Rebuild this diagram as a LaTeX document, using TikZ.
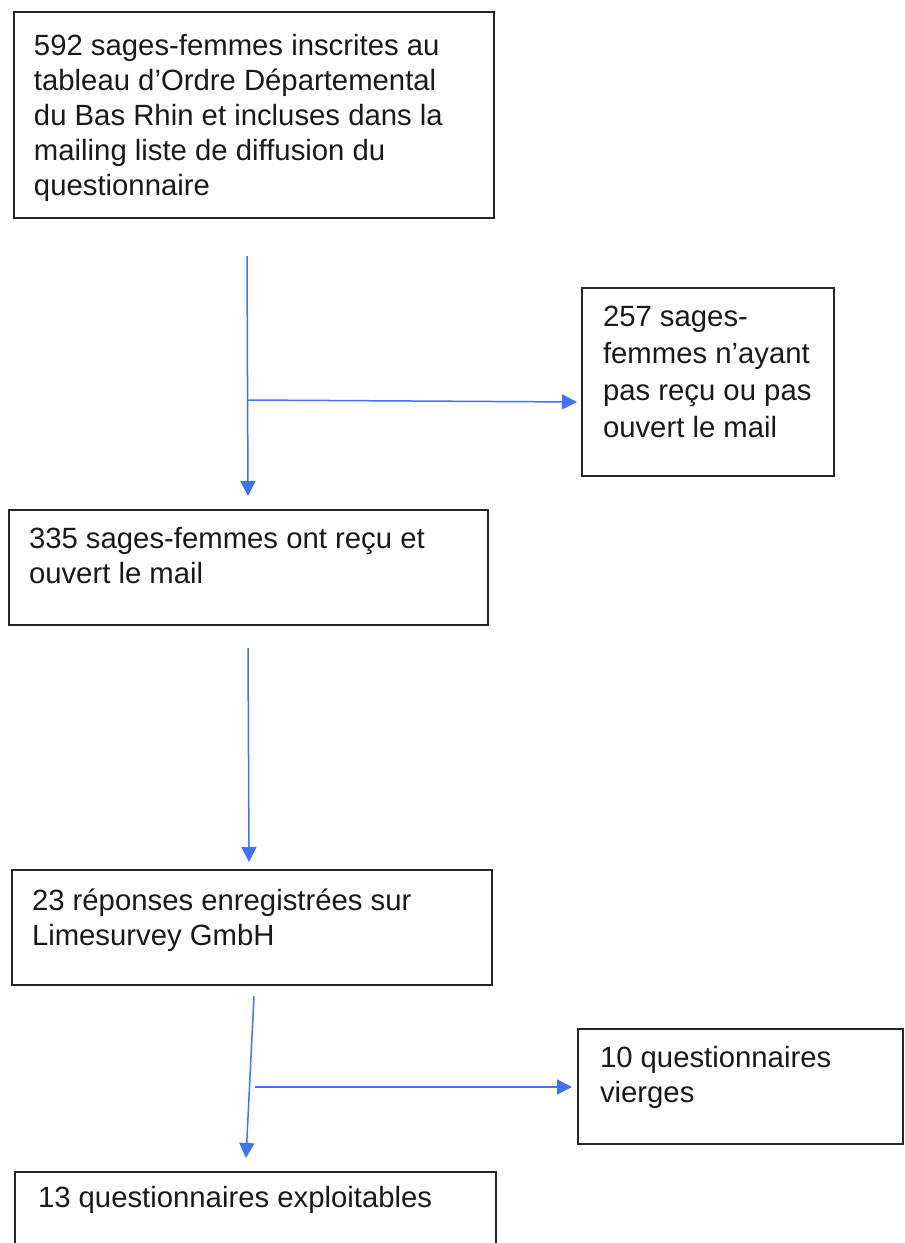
\documentclass[tikz,border=0pt]{standalone}
\usepackage{fontspec}
\setmainfont{Liberation Sans}
\usetikzlibrary{arrows.meta}
\definecolor{arrowblue}{RGB}{64,115,250}
\definecolor{boxline}{RGB}{38,38,38}
\definecolor{txt}{RGB}{25,25,25}
\newcommand{\boxtext}[2][35]{\parbox[t]{460pt}{\raggedright\fontsize{29.3}{#1}\selectfont #2}}
\tikzset{
  flowbox/.style={draw=boxline, line width=2pt, inner sep=0pt, outer sep=0pt, anchor=north west},
  flowtext/.style={inner sep=0pt, outer sep=0pt, anchor=base west, text=txt},
  flowarrow/.style={draw=arrowblue, line width=1.5pt, -{Triangle[length=15pt,width=15pt]}}
}
\begin{document}
\begin{tikzpicture}[x=1pt,y=-1pt]
\useasboundingbox (0,0) rectangle (905,1243);

% boxes
\node[flowbox, minimum width=480pt, minimum height=206pt] (b1) at (14,12) {};
\node[flowbox, minimum width=252pt, minimum height=188pt] (b2) at (582,288) {};
\node[flowbox, minimum width=479pt, minimum height=115pt] (b3) at (9,510) {};
\node[flowbox, minimum width=480pt, minimum height=115pt] (b4) at (12,870) {};
\node[flowbox, minimum width=325pt, minimum height=115pt] (b5) at (578,1029) {};
\node[flowbox, minimum width=481pt, minimum height=100pt] (b6) at (15,1172) {};

% texts
\node[flowtext] (t1) at (34,55) {\boxtext{592 sages-femmes inscrites au\\tableau d’Ordre Départemental\\du Bas Rhin et incluses dans la\\mailing liste de diffusion du\\questionnaire}};
\node[flowtext] (t2) at (603,326) {\boxtext[37]{257 sages-\\femmes n’ayant\\pas reçu ou pas\\ouvert le mail}};
\node[flowtext] (t3) at (29,548) {\boxtext{335 sages-femmes ont reçu et\\ouvert le mail}};
\node[flowtext] (t4) at (32,910) {\boxtext{23 réponses enregistrées sur\\Limesurvey GmbH}};
\node[flowtext] (t5) at (600,1067) {\boxtext{10 questionnaires\\vierges}};
\node[flowtext] (t6) at (38,1207) {\boxtext{13 questionnaires exploitables}};

% connector points
\coordinate (a1s) at (247,256);
\coordinate (a1e) at (248,496);
\coordinate (a1b) at (248,400);
\coordinate (a1r) at (577,402);
\coordinate (a2s) at (248,648);
\coordinate (a2e) at (249,862);
\coordinate (a3s) at (254,996);
\coordinate (a3e) at (246,1158);
\coordinate (a3b) at (255,1087);
\coordinate (a3r) at (572,1087);

% connectors
\draw[flowarrow] (a1s) -- (a1e);
\draw[flowarrow] (a1b) -- (a1r);
\draw[flowarrow] (a2s) -- (a2e);
\draw[flowarrow] (a3s) -- (a3e);
\draw[flowarrow] (a3b) -- (a3r);
\end{tikzpicture}
\end{document}
